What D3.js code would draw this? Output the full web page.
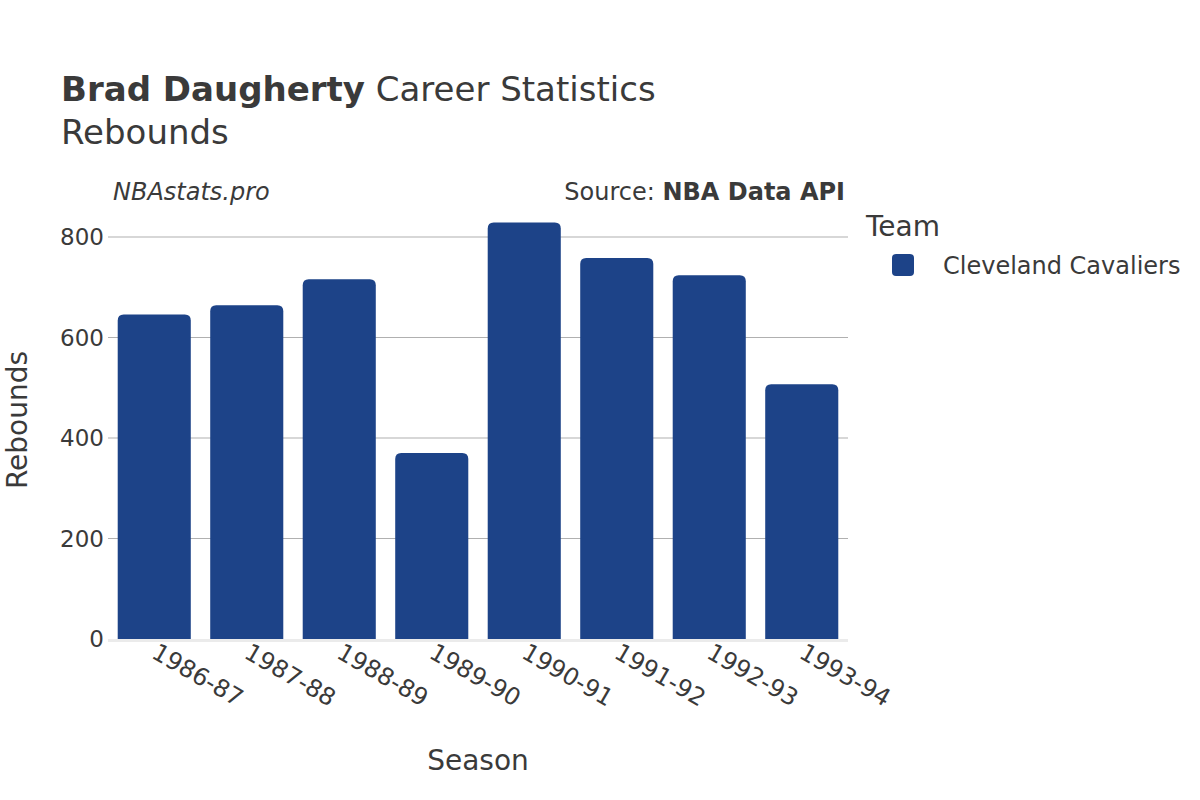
<!DOCTYPE html>
<html><head><meta charset="utf-8">
<script src="https://cdn.jsdelivr.net/npm/d3@7"></script>
<style>body{margin:0;background:#fff;} text{font-family:"DejaVu Sans",sans-serif;fill:#3a3a3a;}</style>
</head><body>
<svg id="c" width="1200" height="800"></svg>
<script>
const seasons = ["1986-87","1987-88","1988-89","1989-90","1990-91","1991-92","1992-93","1993-94"];
const rebounds = [646, 664, 716, 370, 829, 758, 724, 507];
const yTicks = [0, 200, 400, 600, 800];
const teams = ["Cleveland Cavaliers"];
const teamColors = ["#1d4388"];

(function () {
const svg = d3.select("#c");
const pLeft = 108, pRight = 848, pTop = 222, pBottom = 639;
const x = d3.scaleBand().domain(seasons).range([pLeft, pRight]).paddingInner(0.21).paddingOuter(0.105);
const y = d3.scaleLinear().domain([0, 800 * (pBottom - pTop) / (pBottom - 237)]).range([pBottom, pTop]);

// gridlines
svg.append("g").selectAll("line").data(yTicks.filter(d => d > 0)).join("line")
  .attr("x1", pLeft).attr("x2", pRight).attr("y1", d => y(d)).attr("y2", d => y(d))
  .attr("stroke", "#b0b0b0").attr("stroke-width", 1.2);
// zero line
svg.append("line").attr("x1", pLeft).attr("x2", pRight).attr("y1", y(0) + 1.5).attr("y2", y(0) + 1.5)
  .attr("stroke", "#ebebeb").attr("stroke-width", 3);

// y tick labels
svg.append("g").selectAll("text").data(yTicks).join("text")
  .attr("x", 104).attr("y", d => y(d)).attr("dy", "0.36em").attr("text-anchor", "end")
  .attr("font-size", 23).text(d => d);

// bars with rounded tops
const r = 6;
function barPath(x0, w, yTop, yBot) {
  const rr = Math.min(r, (yBot - yTop));
  return `M${x0},${yBot}V${yTop + rr}Q${x0},${yTop} ${x0 + rr},${yTop}H${x0 + w - rr}Q${x0 + w},${yTop} ${x0 + w},${yTop + rr}V${yBot}Z`;
}
svg.append("g").selectAll("path").data(seasons).join("path")
  .attr("d", (s, i) => barPath(x(s), x.bandwidth(), y(rebounds[i]), y(0)))
  .attr("fill", teamColors[0]);

// x tick labels
svg.append("g").selectAll("text").data(seasons).join("text")
  .attr("transform", s => `translate(${x(s) + x.bandwidth()/2 - 4},${657}) rotate(30)`)
  .attr("font-size", 24).attr("text-anchor", "start").text(s => s);

// axis titles
svg.append("text").attr("x", 478).attr("y", 770).attr("text-anchor", "middle").attr("font-size", 28).text("Season");
svg.append("text").attr("transform", "translate(17,420) rotate(-90)").attr("dy", "0.35em").attr("text-anchor", "middle").attr("font-size", 28).text("Rebounds");

// title
const t = svg.append("text").attr("x", 61).attr("y", 101).attr("font-size", 34);
t.append("tspan").attr("font-weight", "bold").text("Brad Daugherty");
t.append("tspan").text(" Career Statistics");
svg.append("text").attr("x", 61).attr("y", 144).attr("font-size", 34).text("Rebounds");

svg.append("text").attr("x", 113).attr("y", 200).attr("font-size", 24).attr("font-style", "italic").text("NBAstats.pro");
const src = svg.append("text").attr("x", 845).attr("y", 200).attr("font-size", 24).attr("text-anchor", "end");
src.append("tspan").text("Source: ");
src.append("tspan").attr("font-weight", "bold").text("NBA Data API");

// legend
svg.append("text").attr("x", 866).attr("y", 236).attr("font-size", 28).text("Team");
const lg = svg.append("g").selectAll("g").data(teams).join("g");
lg.append("rect").attr("x", 892).attr("y", (d, i) => 254 + i * 30).attr("width", 22).attr("height", 22).attr("rx", 4)
  .attr("fill", (d, i) => teamColors[i]);
lg.append("text").attr("x", 943).attr("y", (d, i) => 266 + i * 30).attr("dy", "0.35em").attr("font-size", 24).text(d => d);
})();
</script>
</body></html>
